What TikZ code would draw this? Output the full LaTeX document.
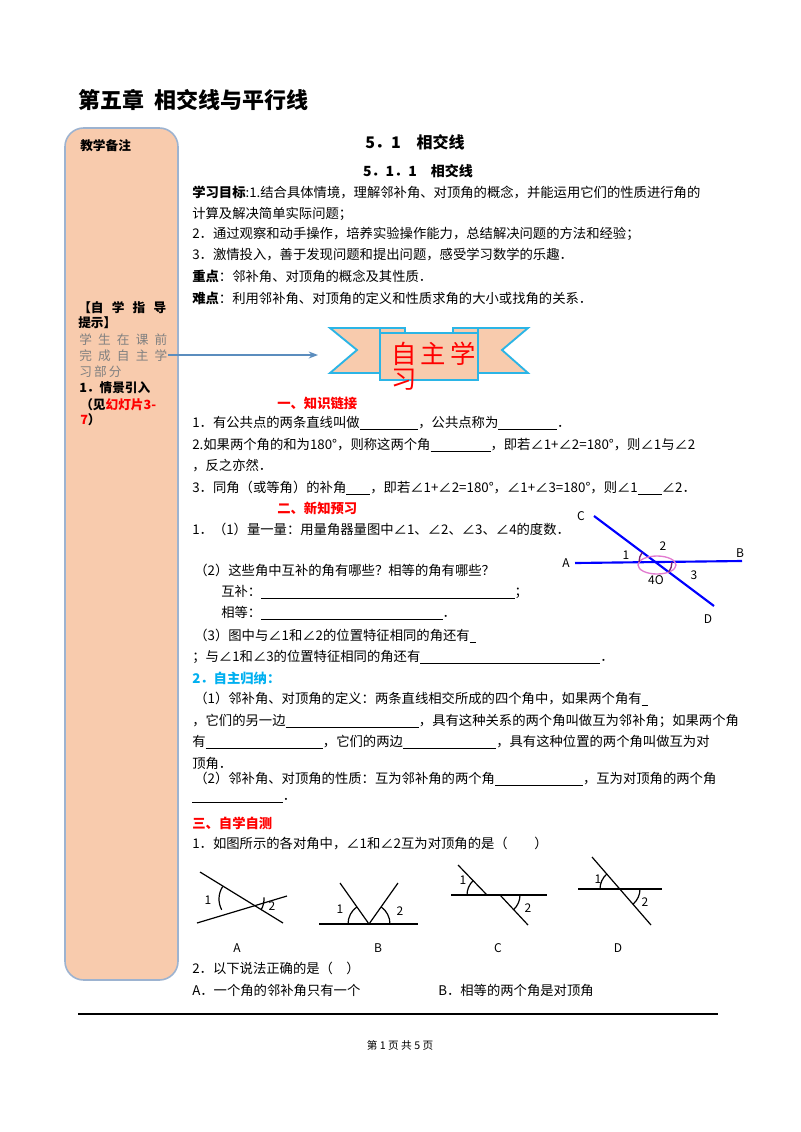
\documentclass[tikz,border=0pt]{standalone}
\usepackage{fontspec}
\usetikzlibrary{arrows.meta}
\setmainfont{Noto Sans CJK SC}
\newfontfamily\cjk{Noto Sans CJK SC}
\definecolor{peach}{HTML}{F8CBAD}
\definecolor{boxb}{HTML}{9DB3D0}
\definecolor{arr}{HTML}{5B8DBE}
\definecolor{rib}{HTML}{2BB5E6}
\definecolor{sky}{HTML}{00B0F0}
\definecolor{pinkc}{HTML}{E27BD0}
\definecolor{purp}{HTML}{7A1F6E}
\newcommand{\bl}[1]{\underline{\hspace{#1pt}}}
\newcommand{\spr}[1]{\makebox[66pt][s]{#1}}
\tikzset{tl/.style={anchor=west,inner sep=0pt,font=\fontsize{10pt}{12pt}\selectfont},
 hl/.style={anchor=west,inner sep=0pt,font=\fontsize{9.5pt}{11pt}\selectfont},
 blu/.style={blue,line width=1.6pt},
 lab/.style={inner sep=0pt,font=\fontsize{9pt}{10pt}\selectfont}}
\begin{document}
\begin{tikzpicture}[x=0.75pt,y=-0.75pt]
\useasboundingbox[fill=white] (0,0) rectangle (800,1132);
\node[anchor=west,inner sep=0pt,font=\fontsize{16.5pt}{18pt}\selectfont\bfseries] (title) at (78,100) {第五章\ \ 相交线与平行线};
% left box
\draw[boxb,fill=peach,line width=1.2pt,rounded corners=14pt] (65,128) rectangle (178,980);
\node[tl,font=\fontsize{9.5pt}{11pt}\selectfont\bfseries] (nb) at (80,146) {教学备注};
\node[hl,font=\fontsize{9.5pt}{11pt}\selectfont\bfseries] (h1a) at (78,308) {\spr{【自\hfill 学\hfill 指\hfill 导}};
\node[hl,font=\fontsize{9.5pt}{11pt}\selectfont\bfseries] (h1b) at (78,323) {提示】};
\node[hl,gray] (h2a) at (79,340) {\spr{学\hfill 生\hfill 在\hfill 课\hfill 前}};
\node[hl,gray] (h2b) at (79,356) {\spr{完\hfill 成\hfill 自\hfill 主\hfill 学}};
\node[hl,gray] (h2c) at (79,372) {习\,部\,分};
\node[hl,font=\fontsize{9.5pt}{11pt}\selectfont\bfseries] (h3) at (79,388) {1．情景引入};
\node[hl,font=\fontsize{9.5pt}{11pt}\selectfont\bfseries] (h4) at (80,405) {（见{\color{red}幻灯片3-}};
\node[hl,font=\fontsize{9.5pt}{11pt}\selectfont\bfseries] (h5) at (80,420) {{\color{red}7}）};
\coordinate (as) at (168,355);
\draw[arr,line width=1pt,-{Stealth[length=7pt]}] (as) -- (318,355) coordinate (ae);
% headings
\node[inner sep=0pt,font=\fontsize{12pt}{14pt}\selectfont\bfseries] (hh1) at (415,142) {5．1\quad 相交线};
\node[inner sep=0pt,font=\fontsize{10.5pt}{12pt}\selectfont\bfseries] (hh2) at (418,171) {5．1．1\quad 相交线};
\node[tl] (l1) at (192,192) {\textbf{学习目标}:1.结合具体情境，理解邻补角、对顶角的概念，并能运用它们的性质进行角的};
\node[tl] (l2) at (192,214) {计算及解决简单实际问题；};
\node[tl] (l3) at (192,234) {2．通过观察和动手操作，培养实验操作能力，总结解决问题的方法和经验；};
\node[tl] (l4) at (192,255) {3．激情投入，善于发现问题和提出问题，感受学习数学的乐趣．};
\node[tl] (l5) at (192,276) {\textbf{重点}：邻补角、对顶角的概念及其性质．};
\node[tl] (l6) at (192,298) {\textbf{难点}：利用邻补角、对顶角的定义和性质求角的大小或找角的关系．};
% banner
\draw[rib,fill=peach,line width=1.4pt] (380,328) -- (330,328) -- (357,350) -- (330,373) -- (380,373);
\draw[rib,fill=peach,line width=1.4pt] (478,328) -- (528,328) -- (502,350) -- (528,373) -- (478,373);
\draw[rib,fill=peach,line width=1.2pt] (380,328) rectangle (405,336);
\draw[rib,fill=peach,line width=1.2pt] (453,328) rectangle (478,336);
\draw[rib,fill=peach,line width=1.4pt] (380,333) rectangle (478,380);
\node[anchor=west,inner sep=0pt,red,font=\fontsize{19pt}{20pt}\selectfont] (zz1) at (391,354) {自\,主\,学};
\node[anchor=west,inner sep=0pt,red,font=\fontsize{19pt}{20pt}\selectfont] (zz2) at (391,380) {习};
% section 1
\node[tl,red,font=\fontsize{10pt}{12pt}\selectfont\bfseries] (s1) at (277,403) {一、知识链接};
\node[tl] (a1) at (192,423) {1．有公共点的两条直线叫做\bl{44}，公共点称为\bl{44}．};
\node[tl] (a2) at (192,445) {2.如果两个角的和为180°，则称这两个角\bl{45}，即若∠1+∠2=180°，则∠1与∠2};
\node[tl] (a3) at (192,466) {，反之亦然．};
\node[tl] (a4) at (192,488) {3．同角（或等角）的补角\bl{18}，即若∠1+∠2=180°，∠1+∠3=180°，则∠1\bl{18}∠2．};
\node[tl,red,font=\fontsize{10pt}{12pt}\selectfont\bfseries] (s2) at (277,508) {二、新知预习};
\node[tl] (b1) at (192,529) {1．（1）量一量：用量角器量图中∠1、∠2、∠3、∠4的度数．};
\node[tl] (b2) at (194,570) {（2）这些角中互补的角有哪些？相等的角有哪些？};
\node[tl] (b3) at (221,592) {互补：\bl{190}；};
\node[tl] (b4) at (221,613) {相等：\bl{136}．};
\node[tl] (b5) at (194,636) {（3）图中与∠1和∠2的位置特征相同的角还有\bl{5}};
\node[tl] (b6) at (192,657) {；与∠1和∠3的位置特征相同的角还有\bl{135}．};
\node[tl,sky,font=\fontsize{10pt}{12pt}\selectfont\bfseries] (c0) at (192,678) {2．自主归纳：};
\node[tl] (c1) at (194,699) {（1）邻补角、对顶角的定义：两条直线相交所成的四个角中，如果两个角有\bl{5}};
\node[tl] (c2) at (192,721) {，它们的另一边\bl{100}，具有这种关系的两个角叫做互为邻补角；如果两个角};
\node[tl] (c3) at (192,742) {有\bl{88}，它们的两边\bl{70}，具有这种位置的两个角叫做互为对};
\node[tl] (c4) at (192,763) {顶角．};
\node[tl] (c5) at (194,779) {（2）邻补角、对顶角的性质：互为邻补角的两个角\bl{66}，互为对顶角的两个角};
\node[tl] (c6) at (192,801) {\bl{68}．};
\node[tl,red,font=\fontsize{10pt}{12pt}\selectfont\bfseries] (s3) at (192,823) {三、自学自测};
\node[tl] (d1) at (192,843) {1．如图所示的各对角中，∠1和∠2互为对顶角的是（\qquad）};
% main figure
\coordinate (O) at (655,562);
\draw[blu] (575,563) coordinate (A) -- (742,561) coordinate (B);
\draw[blu] (594,516) coordinate (C) -- (714,606) coordinate (D);
\draw[pinkc,line width=1pt] (657,565) ellipse (19 and 9);
\draw[purp,line width=1pt] (O) ++(180:16) arc (180:217:16);
\draw[purp,line width=1pt] (O) ++(0:17) arc (0:37:17);
\node[lab,font=\fontsize{9pt}{10pt}\selectfont\itshape] (lC) at (581,516) {C};
\node[lab,font=\fontsize{9pt}{10pt}\selectfont\itshape] (lA) at (566,563) {A};
\node[lab,font=\fontsize{9pt}{10pt}\selectfont\itshape] (lB) at (740,553) {B};
\node[lab,font=\fontsize{9pt}{10pt}\selectfont\itshape] (lD) at (708,619) {D};
\node[lab] (n1) at (626,555) {1};
\node[lab] (n2) at (663,546) {2};
\node[lab] (n3) at (694,575) {3};
\node[lab] (n4) at (656,580) {4\textit{O}};
% small figures
\begin{scope}[line width=0.9pt]
\draw (200,872) -- (283,923); \draw (197,923) -- (287,896);
\draw (242,899) ++(152:23) arc (152:213:23);
\draw (242,899) ++(-4:22) arc (-4:30:22);
\node[lab] (fa1) at (208,900) {1}; \node[lab] (fa2) at (272,906) {2};
\draw (319,924) -- (418,924); \draw (340,883) -- (369,924) -- (398,883);
\draw (369,924) ++(180:21) arc (180:235:21);
\draw (369,924) ++(-55:21) arc (-55:0:21);
\node[lab] (fb1) at (340,909) {1}; \node[lab] (fb2) at (400,911) {2};
\draw (451,895) -- (547,895); \draw (458,865) -- (487,895); \draw (500,895) -- (528,925);
\draw (487,895) ++(180:20) arc (180:226:20);
\draw (500,895) ++(0:20) arc (0:47:20);
\node[lab] (fc1) at (463,880) {1}; \node[lab] (fc2) at (528,908) {2};
\draw (578,889) -- (662,889); \draw (592,857) -- (651,925);
\draw (620,889) ++(180:20) arc (180:229:20);
\draw (620,889) ++(0:20) arc (0:49:20);
\node[lab] (fd1) at (598,879) {1}; \node[lab] (fd2) at (645,902) {2};
\end{scope}
\node[lab] (LA) at (237,948) {A}; \node[lab] (LB) at (378,948) {B};
\node[lab] (LC) at (498,948) {C}; \node[lab] (LD) at (618,948) {D};
\node[tl] (e1) at (192,968) {2．以下说法正确的是（\quad）};
\node[tl] (e2) at (192,990) {A．一个角的邻补角只有一个};
\node[tl] (e3) at (438,990) {B．相等的两个角是对顶角};
\draw[line width=1pt] (78,1014) coordinate (r1) -- (718,1014) coordinate (r2);
\node[inner sep=0pt,font=\fontsize{8pt}{9pt}\selectfont] (ft) at (400,1045) {第 1 页\ 共 5 页};
\end{tikzpicture}
\end{document}
